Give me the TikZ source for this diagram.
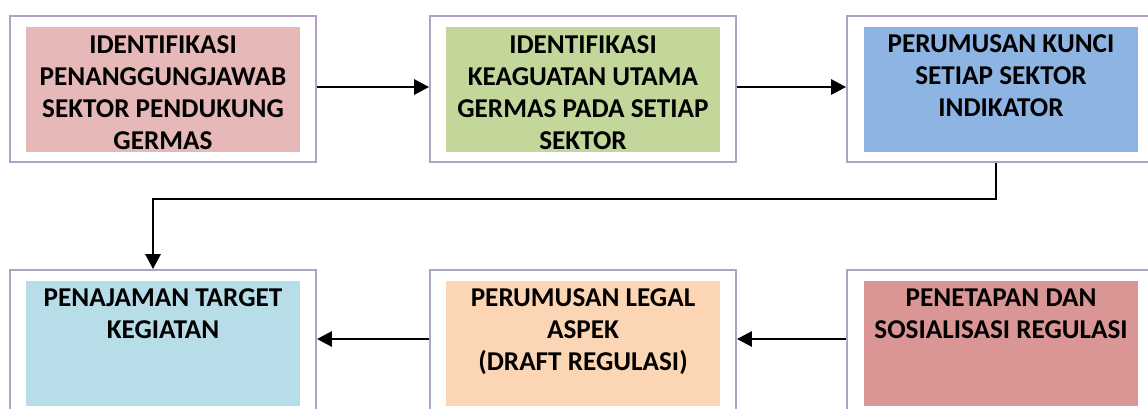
\documentclass[tikz,border=0pt]{standalone}
\usepackage{fontspec}
\setmainfont{Carlito}
\usetikzlibrary{arrows.meta}
\definecolor{frame}{HTML}{B1A0C7}
\definecolor{cA}{HTML}{E6B8B7}
\definecolor{cB}{HTML}{C4D79B}
\definecolor{cC}{HTML}{8DB4E2}
\definecolor{cD}{HTML}{B7DEE8}
\definecolor{cE}{HTML}{FCD5B4}
\definecolor{cF}{HTML}{DA9694}
\tikzset{
  outerbox/.style={draw=frame, line width=1.8pt, fill=white, minimum width=306pt, minimum height=146pt, inner sep=0pt},
  innerbox/.style={minimum width=274pt, minimum height=125pt, inner sep=0pt},
  label/.style={anchor=north, align=center, inner sep=0pt, font=\fontsize{27.2}{32}\selectfont\bfseries},
  conn/.style={line width=2.8pt, -{Triangle[length=15pt,width=15pt]}}
}
\begin{document}
\begin{tikzpicture}[x=1pt,y=-1pt]
\useasboundingbox (0,0) rectangle (1148,408);
\begin{scope}
\clip (0,0) rectangle (1148,408);
% top row
\node[outerbox] (o1) at (163,89) {};
\node[innerbox, fill=cA] (i1) at (163,89.5) {};
\node[label] (t1) at ([yshift=-8.5pt]i1.north) {IDENTIFIKASI\\PENANGGUNGJAWAB\\SEKTOR PENDUKUNG\\GERMAS};
\node[outerbox] (o2) at (583,89) {};
\node[innerbox, fill=cB] (i2) at (583,89.5) {};
\node[label] (t2) at ([yshift=-8.5pt]i2.north) {IDENTIFIKASI\\KEAGUATAN UTAMA\\GERMAS PADA SETIAP\\SEKTOR};
\node[outerbox] (o3) at (1000,89) {};
\node[innerbox, fill=cC] (i3) at (1001,89.5) {};
\node[label] (t3) at ([yshift=-7.5pt]i3.north) {PERUMUSAN KUNCI\\SETIAP SEKTOR\\INDIKATOR};
% bottom row
\node[outerbox] (o4) at (163,343) {};
\node[innerbox, fill=cD] (i4) at (163,343.5) {};
\node[label] (t4) at ([yshift=-7.5pt]i4.north) {PENAJAMAN TARGET\\KEGIATAN};
\node[outerbox] (o5) at (583,343) {};
\node[innerbox, fill=cE] (i5) at (583,343.5) {};
\node[label] (t5) at ([yshift=-7.5pt]i5.north) {PERUMUSAN LEGAL\\ASPEK\\(DRAFT REGULASI)};
\node[outerbox] (o6) at (1000,343) {};
\node[innerbox, fill=cF] (i6) at (1001,343.5) {};
\node[label] (t6) at ([yshift=-7.5pt]i6.north) {PENETAPAN DAN\\SOSIALISASI REGULASI};
\end{scope}
% connectors
\coordinate (c1) at (996,199);
\coordinate (c2) at (153,199);
\draw[conn] (o1.east |- 0,87) -- (o2.west |- 0,87);
\draw[conn] (o2.east |- 0,87) -- (o3.west |- 0,87);
\draw[conn] (o3.south -| c1) -- (c1) -- (c2) -- (o4.north -| c2);
\draw[conn] (o6.west |- 0,339) -- (o5.east |- 0,339);
\draw[conn] (o5.west |- 0,339) -- (o4.east |- 0,339);
\end{tikzpicture}
\end{document}
